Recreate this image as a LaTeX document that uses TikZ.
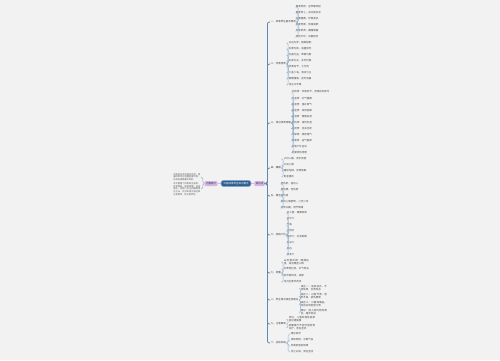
\documentclass[tikz,border=0pt]{standalone}
\usepackage{fontspec}
\newfontfamily\cjk{Noto Sans CJK SC}
\XeTeXlinebreaklocale "zh"
\XeTeXlinebreakskip = 0pt plus 1pt
\usetikzlibrary{positioning}
\definecolor{cbg}{HTML}{F2F2F2}
\definecolor{ccentre}{HTML}{2F5F8F}
\definecolor{cedge}{HTML}{7FA6CC}
\definecolor{ctopic}{HTML}{D4B5E6}
\definecolor{ctrunk}{HTML}{5F87B0}
\definecolor{ctwig}{HTML}{8FB0CF}
\tikzset{
  mapfont/.style={font=\cjk\fontsize{2.5}{3}\selectfont},
  centre/.style={draw=cedge, fill=ccentre, text=white, rounded corners=2.5pt, line width=0.6pt,
    minimum height=6pt, inner xsep=2.5pt, inner ysep=1pt, mapfont},
  topicn/.style={fill=ctopic, text=black!80, rounded corners=1pt, minimum height=5pt,
    inner xsep=1.5pt, inner ysep=0.8pt, mapfont},
  branchn/.style={anchor=west, inner sep=0.6pt, text=black!75, mapfont},
  leafn/.style={anchor=west, inner sep=0.6pt, text=black!70, mapfont},
  longleaf/.style={leafn, text width=27pt, align=left},
  note/.style={anchor=east, inner sep=0.4pt, text=black!65, text width=27pt, align=left,
    font=\cjk\fontsize{2.2}{2.7}\selectfont},
  trunk/.style={draw=ctrunk, line width=0.8pt, rounded corners=2pt},
  twig/.style={draw=ctwig, line width=0.45pt, rounded corners=1.5pt},
}
\begin{document}
\begin{tikzpicture}[x=1pt,y=-1pt]
\fill[cbg] (0,0) rectangle (500,360);
\useasboundingbox (0,0) rectangle (500,360);

% centre and the two side topics
\node[centre] (main) at (236,183.5) {中医四季养生知识要点};
\node[topicn] (intro) at (211,183.5) {内容简介};
\node[topicn] (points) at (259.5,183.5) {知识点};
\draw[draw=ctopic, line width=0.6pt] (intro) -- (main);
\draw[draw=ctopic, line width=0.6pt] (main) -- (points);

% left: summary notes
\node[note] (note1) at (201,177) {中医养生讲究顺应自然，根据四季变化调整起居饮食，达到防病保健的目的。};
\node[note] (note2) at (201,189) {本文整理了四季养生原则、饮食调养、体质调理、运动情志、经络穴位与药膳等常见方法，并列出常见误区和注意事项，供日常参考。};
\draw[twig] (intro.west) -- ++(-1.5,0) |- (note1.east);
\draw[twig] (intro.west) -- ++(-1.5,0) |- (note2.east);

% right: first level
\node[branchn] (b1) at (270,22) {一、四季养生基本原则};
\node[branchn] (b2) at (270,64) {二、饮食调养};
\node[branchn] (b3) at (270,123) {三、常见体质调理};
\node[branchn] (b4) at (270,168) {四、睡眠};
\node[branchn] (b5) at (270,196) {五、情志};
\node[branchn] (b6) at (270,235) {六、经络穴位};
\node[branchn] (b7) at (270,273) {七、药膳};
\node[branchn] (b8) at (270,300) {八、养生常见误区及建议};
\node[branchn] (b9) at (270,324) {九、注意事项};
\node[branchn] (b10) at (270,343) {十、总结归纳};
\foreach \b in {b1,b2,b3,b4,b5,b6,b7,b8,b9,b10}
  \draw[trunk] (points.east) -- ++(2.5,0) |- (\b.west);

% second level
\foreach \t [count=\i] in {春季养肝，宜早睡早起, 夏季养心，忌过度贪凉, 长夏健脾，饮食清淡, 秋季养肺，防燥润肺, 冬季养肾，藏精保暖, 顺应天时，动静结合}
  \node[leafn] (a\i) at (295,{7+6*(\i-1)}) {\t};
\foreach \i in {1,...,6} \draw[twig] (b1.east) -- ++(1.5,0) |- (a\i.west);

\foreach \t [count=\i] in {五谷为养，粗细搭配, 五果为助，适量常吃, 五畜为益，荤素均衡, 五菜为充，多吃时蔬, 饮食有节，七分饱, 少盐少油，清淡为主, 细嚼慢咽，定时进餐, 忌生冷辛辣}
  \node[leafn] (c\i) at (288,{43+6*(\i-1)}) {\t};
\foreach \i in {1,...,8} \draw[twig] (b2.east) -- ++(1.5,0) |- (c\i.west);

\foreach \t [count=\i] in {平和质：饮食有节，劳逸结合即可, 气虚质：补气健脾, 阳虚质：温补阳气, 阴虚质：滋阴润燥, 痰湿质：健脾祛湿, 湿热质：清热利湿, 血瘀质：活血化瘀, 气郁质：疏肝理气, 特禀质：益气固表, 多做户外运动, 定期体检调理}
  \node[leafn] (d\i) at (291,{92+6.1*(\i-1)}) {\t};
\foreach \i in {1,...,11} \draw[twig] (b3.east) -- ++(1.5,0) |- (d\i.west);

\foreach \t [count=\i] in {子时入睡，养护肝胆, 午间小憩, 睡前泡脚，安神助眠, 卧室通风}
  \node[leafn] (e\i) at (283,{159+6*(\i-1)}) {\t};
\foreach \i in {1,...,4} \draw[twig] (b4.east) -- ++(1.5,0) |- (e\i.west);

\foreach \t [count=\i] in {怒伤肝，喜伤心, 思伤脾，悲伤肺, 恐伤肾, 保持心情舒畅，少忧少虑, 培养兴趣，调节情绪}
  \node[leafn] (f\i) at (280,{184+6*(\i-1)}) {\t};
\foreach \i in {1,...,5} \draw[twig] (b5.east) -- ++(1.5,0) |- (f\i.west);

\foreach \t [count=\i] in {足三里：健脾和胃, 关元穴, 气海, 三阴交, 涌泉穴：补肾助眠, 内关穴, 合谷, 百会穴}
  \node[leafn] (g\i) at (286,{213+6*(\i-1)}) {\t};
\foreach \i in {1,...,8} \draw[twig] (b6.east) -- ++(1.5,0) |- (g\i.west);

\node[longleaf] (h1) at (283,262) {山药薏米粥：健脾祛湿，适合脾虚人群};
\node[leafn] (h2) at (283,269) {红枣枸杞茶，补气养血};
\node[leafn] (h3) at (283,275.5) {百合银耳汤，润肺};
\node[leafn] (h4) at (283,282) {当归生姜羊肉汤};
\foreach \i in {1,...,4} \draw[twig] (b7.east) -- ++(1.5,0) |- (h\i.west);

\node[longleaf] (k1) at (300,288.5) {误区一：盲目进补，不辨体质，反而伤身};
\node[longleaf] (k2) at (300,296.5) {误区二：过度节食，营养不良，损伤脾胃};
\node[longleaf] (k3) at (300,304.5) {误区三：只重保健品，忽视日常起居习惯};
\node[longleaf] (k4) at (300,312.5) {建议：因人因时因地制宜，循序渐进};
\foreach \i in {1,...,4} \draw[twig] (b8.east) -- ++(1.5,0) |- (k\i.west);

\node[longleaf] (m1) at (288,319.5) {孕妇、儿童及慢性病患者应遵医嘱};
\node[longleaf] (m2) at (288,327.5) {药膳食疗不能代替药物治疗，贵在坚持};
\foreach \i in {1,...,2} \draw[twig] (b9.east) -- ++(1.5,0) |- (m\i.west);

\foreach \t [count=\i] in {顺应自然, 调和阴阳，平衡气血, 饮食起居有规律, 持之以恒，贵在坚持}
  \node[leafn] (n\i) at (290,{334+6*(\i-1)}) {\t};
\foreach \i in {1,...,4} \draw[twig] (b10.east) -- ++(1.5,0) |- (n\i.west);
\end{tikzpicture}
\end{document}
